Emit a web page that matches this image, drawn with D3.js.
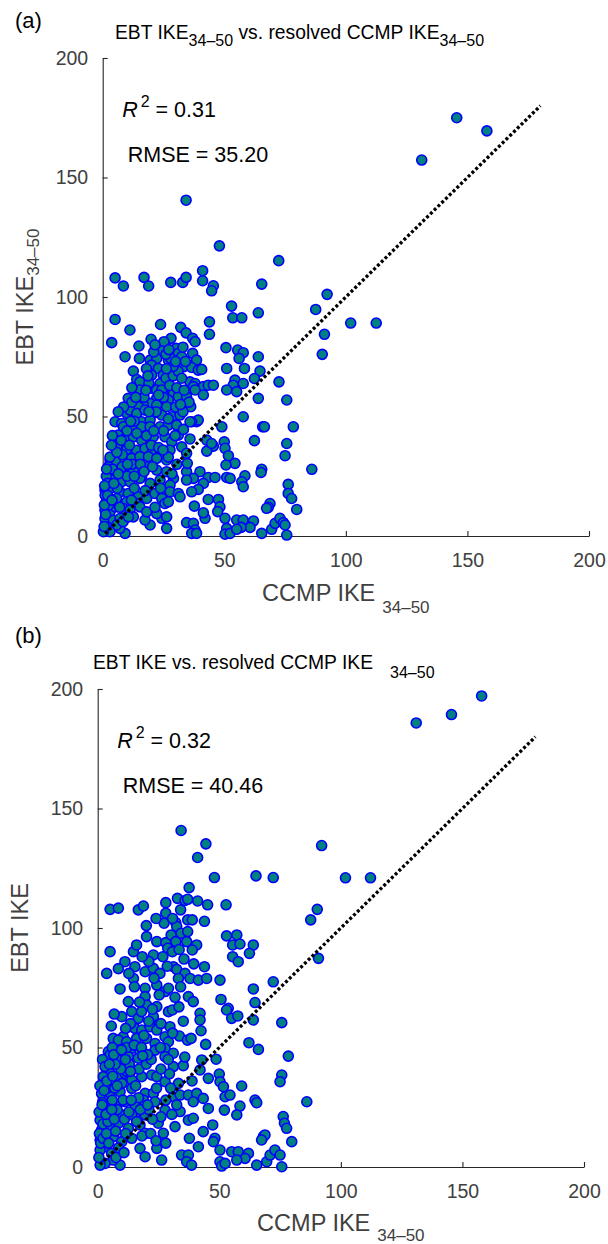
<!DOCTYPE html>
<html><head><meta charset="utf-8">
<script src="https://cdn.jsdelivr.net/npm/d3@7"></script>
<style>
body{margin:0;background:#fff}
svg{display:block}
text{font-family:"Liberation Sans",Arial,Helvetica,sans-serif}
</style>
</head><body>
<svg id="chart" width="608" height="1244"></svg>
<script>
// ---------- data ----------
const xTicks = [0, 50, 100, 150, 200];
const yTicks = [0, 50, 100, 150, 200];
const fitLine = [[1, 1], [180, 180]];
const statsA = ["0.31", "35.20"];
const statsB = ["0.32", "40.46"];
const subLabel = "34\u201350";

// Panel (a): [CCMP IKE34-50, EBT IKE34-50]
const pointsA = [
[34.3,140.5],[48,121.4],[72.4,115.2],[5.1,108],[8.5,104.6],[17,108.2],[18.9,104.6],[28,106.1],[32.9,106.1],[34.3,108.2],[41.1,111],[41.1,106.8],[45.5,104.7],[44.8,102.6],[65.4,105.4],[92.3,101.1],[145.6,175],[158,169.5],[131.2,157.3],[102,89.1],[112.5,89.1],
[53,96.2],[53.5,91.3],[57.2,91.3],[64,93.4],[87.6,94.8],[91.2,84.4],[90.3,76],[5.1,90.6],[11.2,86.2],[23.8,88.5],[3.7,80.9],[43.9,89.6],[43.9,84.4],[32.1,87.3],[34.3,85],[19.9,82.3],[14.9,79.5],[9.2,75],[28.1,82.7],[25.2,81.3],[37,82.7],[38,81.3],[50.7,78.8],[55.5,77.8],[57.8,76.7],[56.1,74.3],[64,75],[51,70.1],[58.3,70.1],[64.7,69],[62.4,65.9],[72.5,64.5],[54.4,65.2],[53.7,63.1],[57.8,63.8],[51,61.1],[55.1,60.4],[64,57.6],[75.7,56.9],[57.8,49.9],[49,45.7],[65.8,45.7],[66.5,45.7],[78.4,45.7],[62.4,39.9],[75.7,38.7],[75,33.6],[86,27.9],[50,39.4],[50.3,36.7],[51.7,33.6],[54.4,30.4],[50.7,29.7],[65.4,27.9],[65.1,26.6],[58.5,25.2],[57.2,22.7],[57.8,20.6],[76.3,21.6],[76.3,17.8],[77.7,15.7],[68.8,13.6],[68.1,12],[67.4,11.6],[79.8,11.1],[43.4,24.5],[46.2,24.5],[51,24.5],[52.4,24.1],[43.4,15.3],[47.6,15.3],[48.2,12.2],[47.3,10.2],[50.3,7.4],[42.1,7.4],[41.4,9.7],[37.7,12.5],[55.1,6.7],[57.8,6.7],[62,6.3],[60.6,3.6],[56.9,3.6],[51,3.2],[50.3,0.8],[52.4,1.1],[55.1,2.8],[65.4,1.1],[69.5,2.8],[70.9,5.3],[72.9,7.4],[74.3,5.6],[75.7,0.4],[75,4.6],[34.5,5.6],[37.3,5.3],[38,2.5],[36.6,1.1],[38.6,1.1],[26.3,3.2],[24.3,7.4],[19.5,4.6],[17.4,6.7],[9.2,1.1],[7.1,3.2],[34.5,26.9],[34.8,30.4],[40,26.9],[41.4,22],[39.3,19.5],[36.6,18.5],[37.3,24.1],[34.5,23.4],[42.8,40.1],[45.5,37.6],[42.8,35.5],[44.8,38.7],[35.9,40.6],[38.6,47.8],[39.3,48.5],[36.6,47.8],[32.5,37.3],[34.5,34.6],
[24.3,77.4],[30.2,78.5],[31.1,76.4],[32.5,75],[37,76.4],[38.6,73.6],[15.1,74.3],[19.5,73.6],[22.2,74.3],[27,73.6],[28,74.3],[33.2,70.8],[36.6,70.5],[39.3,69.4],[40.7,69.7],[12.6,69],
[14,65.5],[15.3,64.5],[20.1,71.5],[22.9,70.1],[20.1,67.3],[24.9,67.3],[23.6,63.8],[35.9,64.5],[38,63.8],[41.4,62.5],[43.4,63.1],[45.5,63.1],[15.3,61.1],[20.1,61.8],[22.2,61.1],[24.3,61.1],
[28.8,60.4],[29.1,59.7],[31.1,58.3],[34.5,58.3],[37.3,62.5],[38,61.1],[27,56.9],[24.3,56.9],[22.2,57.6],[19.5,55.5],[16.7,54.8],[10.5,57.6],[14,55.5],[14.7,54.1],[41.4,59],[36.2,54.1],
[9.9,51.3],[11.2,52.7],[14,51.3],[17.4,52.7],[20.8,51.3],[24.3,50.6],[28.4,49.9],[31.8,50.6],[35.9,47.8],[5.1,47.8],[7.8,47.1],[16,47.8],[19.5,48.5],[26.3,54.1],[22.2,54.8],
[8.5,45.7],[12.6,45.7],[16,45.7],[19.5,45.7],[23.6,45.7],[27,46.4],[30.4,46.4],[31.1,42.2],[33.2,44.6],[6.4,42.2],[9.2,40.8],[12.6,41.5],[16,40.1],[20.8,41.5],[25.6,41.5],[28.4,39.4],
[5.1,37.3],[7.1,35.9],[9.9,36.2],[14,35.9],[17.4,36.6],[20.1,34.6],[23.6,33.9],[27.7,35.9],[3,31.8],[5.7,31.1],[9.2,31.8],[11.9,32.5],[15.3,33.2],[18.8,33.2],[22.2,32.5],[26.3,31.8],
[2.3,29],[5.1,26.9],[8.5,26.2],[12.6,27.6],[16,24.8],[18.8,29],[22.2,27.6],[26.3,26.9],[3.7,23.4],[7.8,22.7],[11.2,22.7],[15.3,24.1],[19.5,22],[23.6,23.4],[29.1,24.1],[27.7,21.3],
[0.95,19.2],[3,19.9],[7.1,18.5],[10.5,17.8],[14.7,16.4],[18.1,15.7],[21.5,17.8],[24.9,17.1],[27.7,18.5],[31.1,17.8],[31.8,16.4],[24.3,15.7],[25.6,13.6],[27,14.3],[1.6,15],[5.7,15.7],[9.9,14.3],[14,13.6],
[0.95,10.8],[3,10.1],[5.1,12.2],[8.5,11.5],[11.2,10.8],[15.3,12.2],[18.1,10.1],[22.2,9.4],[26.3,8],[0.95,7.3],[4.4,6.6],[7.1,7.3],[12.6,8],
[1.6,3.9],[5.7,4.6],[3,1.8],[0.3,1.8],
[1.5,25],[2,22],[1,17],[2.5,13],[4,28],[6,20],[3,33],[8,29],[10,25],[13,20],[12,30],[6,38],[4,42],[10,44],[13,48],[18,42],[20,38],[23,37],[25,44],[27,49],[22,52],[12,56],[17,58],[19,64],[26,66],[29,67],[31,69],[29,71],[21,77],[26,76],[18,70],[33,79],[30,54],[33,52],[25,58],
[0.6,4],[1.2,9],[0.7,13],[2,17],[0.8,21],[1.6,28],[3.8,15],[4.6,22],[6.4,26],[7,12],[8.4,6],[10.6,8],[11.8,15],[13,25],[10.2,30],[8.1,34],[5.8,35],[3.6,38],[7.6,40],[11,38],[14,43],[15.5,30],[17,27],[20.5,29],[17.5,19],[21.5,12],[23.8,20],[28.5,26],[30.5,30],[27,33],[24.8,36],[29.8,42],[21,44],[19,52],[23,59],[27.5,63],[30.5,62],[32.5,66],[17.8,61],[13.6,58],[12,62],[18.6,67],[26.2,70],[30,73],[34,73],[21.5,80],[27.2,78],[33.5,61],[35.5,56],[32,55],[8.6,54],[6.4,52],[11.5,48]
];

// Panel (b): [CCMP IKE34-50, EBT IKE]
const pointsB = [
[157.9,197.1],[145.5,189.3],[131,185.8],[101.9,121],[112.2,121],
[34.3,140.8],[44.5,135.2],[41.1,129.5],[92.1,134.5],[48,121.1],[65.1,121.8],[72.2,121.1],[37.6,116.9],[5.1,107.8],[8.5,108.3],[16.7,107.6],[18.8,109.2],[28,110.6],[28,106.2],[32.8,112.4],[34.1,107.6],[35.9,111.5],[37,112],[41.1,111.3],[45.2,109.7],[52.8,109.7],[27.3,102],[32.1,102.3],[37,103.4],[38.9,103.4],[43.9,102.8],[90.3,107.8],[87.6,103.4],
[32.5,100.6],[20.1,96.4],[24.3,94.3],[28,93.9],[30.2,97.1],[32.1,94.3],[34.3,97.8],[37,98.5],[36.6,94.3],[40.7,92.9],[38.9,90.8],[28.8,91.5],[30.7,90.1],[14.7,90.1],[16,92.9],[5.1,90.1],[22.9,88.7],
[53,96.7],[57.2,97.1],[55.5,92.9],[58.5,93.3],[64,92.9],[62.4,89.4],[55.5,88],[57.8,85.9],[90.8,87.3],
[11.2,85.9],[15.3,83.8],[3.7,81],[19.5,81.7],[22.9,83.1],[25.6,81],[31.1,83.8],[32.5,82.7],[35.9,81],[33.2,78.9],[38,78.9],[41.4,78.2],[43.9,83.8],[44.8,78.9],[50.3,78.2],[14.7,78.9],[9.2,74.5],[15.1,75.4],[19.5,74.8],[24.3,76.1],[27.7,73.4],[29.1,74.8],[34.1,75.4],[72.2,77.5],[64,74.5],
[12.6,69.2],[19.5,71.3],[20.1,67.8],[24.3,67.1],[29.1,65],[30.7,65.7],[37.3,71.3],[39.3,69.2],[14,65],[16.7,62.2],[9.9,62.9],[22.9,62.9],[25.2,59.8],[42.1,64.3],[42.1,61.5],[50.7,70.1],[53.7,66.4],[53,65.7],[55.1,62.2],[57.6,63.2],[64.7,68.8],[64,61.5],[75.7,60.4],
[15.3,58],[18.1,57.3],[21.5,58.7],[24.3,57.3],[29.7,58.7],[10.5,54.5],[6.4,53.8],[8.5,53.1],[11.9,52.4],[16,53.8],[20.1,53.8],[23.6,51.7],[27.7,54.5],[29.1,52.4],[33.6,54.8],[36.9,53.1],[38.4,53.8],[44.4,51.3],[14,49.6],[17.4,48.3],[23.6,48.9],[27.7,49.6],[31.1,47.6],[62.2,52],[66.1,49.2],[78.4,46.4],[4.4,48.3],
[5.1,46.9],[8.5,44.8],[12.6,46.2],[16.7,45.5],[27.7,46.2],[31.1,42],[35.2,42.4],[42.8,44.8],[48.7,45.1],[42.1,40.6],[45.5,37.1],[50,38.9],[50.3,35.7],[59.2,33.9],[75.7,38.5],[75,35.7],[5.1,39.2],[8.5,37.8],[11.2,39.2],[14,36.4],[18.1,37.8],[22.2,38.5],[24.3,37.8],[27.7,35.7],[33.2,35],[2.3,37.8],
[1.6,30.8],[5.1,30.8],[9.2,31.5],[14,32.9],[19.5,30.8],[22.9,30.8],[31.1,29.4],[33.9,30.1],[37.3,30.1],[40.7,30.8],[39.3,27.3],[43.4,28.7],[45.5,24.5],[51.7,33.6],[52.4,29.4],[54.4,30.1],[52.1,23.8],[58.5,25.5],[57.2,21.8],[64.7,28],[65.4,26.9],[86,27.3],[76.3,21.1],[3,25.2],[7.8,25.9],[11.2,27.3],[15.3,25.9],[18.8,28],[23.6,27.3],[27.7,23.8],[33.9,23.2],[37.3,19.6],[39.3,20.4],[4.4,21.1],[9.9,21.8],[15.3,21.1],[19.5,21.8],
[1,19.6],[1.6,15.5],[5.1,16.9],[8.5,18.3],[12.6,16.2],[17.4,17.6],[19.5,14.1],[24.9,18.3],[27,14.1],[31.8,16.9],[37.7,12],[41.4,8.5],[43.4,14.8],[47.3,17.6],[48.2,12],[47.6,10.6],[50.3,7.1],[76.8,18.3],[77.7,16.2],[68.1,12.7],[68.8,13.4],[67.4,11.3],[79.8,10.6],[1,11.3],[3,8.5],[6.4,12.7],[9.9,10.6],[14,12],[17.4,7.8],[24.3,7.8],[19.5,4.3],[1,7.1],[5.7,5.7],
[9.2,0.8],[6.4,2.9],[3,1.5],[1,0.8],[26.3,2.9],[34.5,5],[37.3,5],[36.6,2.2],[38.6,0.8],[50.3,2.2],[51,0.4],[52.4,1.5],[55.1,6.4],[57.8,6.4],[62,5.7],[60.6,3.6],[57.2,2.9],[65.4,0.8],[69.5,2.2],[70.9,5],[72.9,7.1],[75,5],[75.7,0.1],
[2,27],[3,35],[4,33],[6,28],[7,33],[10,35],[12,40],[13,43],[17,41],[20,43],[22,45],[8,24],[11,20],[14,22],[16,19],[21,24],[26,21],[28,28],[30,33],[2,45],[3,42],[6,50],[12,50],[15,51],[18,50],[19,55],[26,60],[21,61],
[0.5,4],[1.2,10],[0.7,14],[2.2,18],[0.6,23],[1.8,26],[0.9,34],[2.6,32],[3.8,36],[2.2,12],[3.6,14],[4.5,10],[4.2,19],[3.4,22],[5.8,24],[6.8,20],[7.4,15],[8.6,8],[7.5,4],[10.8,6],[11.5,14],[12.8,23],[10.4,28],[8,34],[6.2,38],[9.5,41],[7.2,43],[4.8,43],[6.6,47],[9.8,49],[11.4,45],[13.5,40],[15.6,34],[16.8,29],[13.8,28],[17.5,24],[20.5,26],[22.5,20],[18.2,13],[21.8,14],[24,11],[28,10],[30.5,22],[32.5,26],[29.5,39],[26,41],[24.2,33],[20.5,47],[18.5,46.5],[25.8,50],[30.8,56],[22.5,66],[18,65],[13.5,60],[11.5,58],[17.2,69],[25.3,72],[23.2,79],[28.6,84],[21,86],[18.3,88],[26.8,88],[12.8,81],[8.5,83],[6.8,64],[5.6,59],[33.4,67],[35.2,61],[31.8,71],[35.5,87],[30.8,104],[24,104],[20,101],[33.5,91],[39.5,85],[42.5,57],[35.8,46],[38.8,36],[29,45]
];

// ---------- drawing ----------
const svg = d3.select("#chart");
const AX = "#262626";
const FILL = "#008080", EDGE = "#0000ff";

function drawPanel(o, pts, stats, opts) {
  const x = d3.scaleLinear().domain([0, 200]).range([o.left, o.right]);
  const y = d3.scaleLinear().domain([0, 200]).range([o.bottom, o.top]);
  const g = svg.append("g");

  const xa = g.append("g").attr("transform", `translate(0,${o.bottom})`)
    .call(d3.axisBottom(x).tickValues(xTicks).tickSizeInner(-5).tickSizeOuter(0).tickPadding(17.5));
  const ya = g.append("g").attr("transform", `translate(${o.left},0)`)
    .call(d3.axisLeft(y).tickValues(yTicks).tickSizeInner(-5).tickSizeOuter(0).tickPadding(14.5));
  [xa, ya].forEach(a => {
    a.attr("font-family", null).attr("font-size", null);
    a.select(".domain").attr("stroke", AX).attr("stroke-width", 1.1);
    a.selectAll(".tick line").attr("stroke", AX).attr("stroke-width", 1.1);
    a.selectAll(".tick text").attr("fill", "#404040").style("font-size", "19.5px");
  });

  // points
  g.append("g").selectAll("circle").data(pts).join("circle")
    .attr("cx", d => x(d[0])).attr("cy", d => y(d[1])).attr("r", 5)
    .attr("fill", FILL).attr("stroke", EDGE).attr("stroke-width", 1.6);

  // dotted 1:1 line
  g.append("path").datum(fitLine)
    .attr("d", d3.line().x(d => x(d[0])).y(d => y(d[1])))
    .attr("fill", "none").attr("stroke", "#000").attr("stroke-width", 3.3)
    .attr("stroke-dasharray", "3,2.3");

  // stats text
  const t1 = g.append("text").attr("x", x(8)).attr("y", y(175.3)).attr("fill", "#000").style("font-size", "21.5px");
  t1.append("tspan").attr("font-style", "italic").text("R");
  t1.append("tspan").attr("dx", 3).attr("dy", -10).style("font-size", "16px").text("2");
  t1.append("tspan").attr("dy", 10).text(" = " + stats[0]);
  g.append("text").attr("x", x(10.3)).attr("y", y(156.5)).attr("fill", "#000")
    .style("font-size", "21.5px").text("RMSE = " + stats[1]);

  // x label
  const xl = g.append("text").attr("x", (o.left + o.right) / 2).attr("y", o.bottom + opts.xlDy)
    .attr("text-anchor", "middle").attr("fill", "#404040").style("font-size", "23.5px");
  xl.append("tspan").text("CCMP IKE");
  xl.append("tspan").attr("dx", 7).attr("dy", opts.xlSub).style("font-size", "17px").text(subLabel);

  // y label
  const yl = g.append("text")
    .attr("transform", `translate(${o.left - 70},${(o.top + o.bottom) / 2}) rotate(-90)`)
    .attr("text-anchor", "middle").attr("fill", "#404040").style("font-size", "23.5px");
  yl.append("tspan").text("EBT IKE");
  if (opts.ySub) yl.append("tspan").attr("dy", 6.5).style("font-size", "17px").text(subLabel);

  // panel letter
  g.append("text").attr("x", 15).attr("y", opts.letterY).attr("fill", "#000")
    .style("font-size", "22px").text(opts.letter);

  // title
  const tt = g.append("text").attr("x", opts.titleX).attr("y", opts.titleY).attr("fill", "#000").style("font-size", "19.3px");
  if (opts.ySub) {
    tt.append("tspan").text("EBT IKE");
    tt.append("tspan").attr("dy", 7).style("font-size", "16px").text(subLabel);
    tt.append("tspan").attr("dy", -7).text(" vs. resolved CCMP IKE");
    tt.append("tspan").attr("dy", 7).style("font-size", "16px").text(subLabel);
  } else {
    tt.append("tspan").text("EBT IKE vs. resolved CCMP IKE");
    tt.append("tspan").attr("dx", 17).attr("dy", 9).style("font-size", "16px").text(subLabel);
  }
}

drawPanel({left: 102.7, right: 589, top: 58, bottom: 536}, pointsA, statsA,
  {ySub: true, letter: "(a)", letterY: 28, titleX: 115, titleY: 39, xlDy: 64.5, xlSub: 12});
drawPanel({left: 97.7, right: 584, top: 689, bottom: 1167}, pointsB, statsB,
  {ySub: false, letter: "(b)", letterY: 643, titleX: 93, titleY: 669, xlDy: 64, xlSub: 10});
</script>
</body></html>
